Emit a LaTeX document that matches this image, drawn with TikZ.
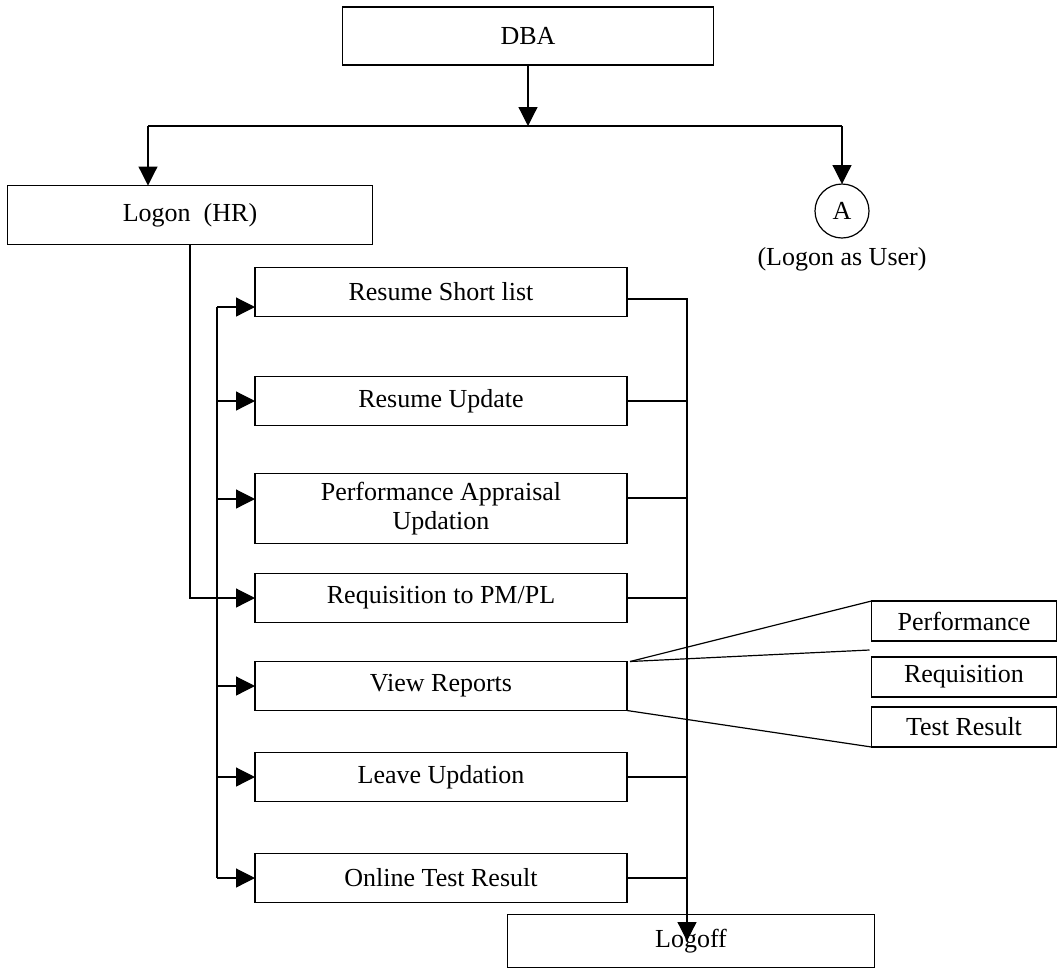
\documentclass[tikz,border=0pt]{standalone}
\usepackage{fontspec}
\setmainfont{Liberation Serif}
\usetikzlibrary{positioning,arrows.meta}

\begin{document}
\begin{tikzpicture}[
	x=1pt, y=-1pt,
	every node/.style={font=\fontsize{26}{29}\selectfont},
	box/.style={draw, line width=1.2pt, outer sep=0pt, inner sep=2pt, minimum width=372pt, minimum height=49pt},
	repbox/.style={draw, line width=1.2pt, outer sep=0pt, inner sep=2pt, minimum width=185pt, minimum height=40pt},
	usernode/.style={circle, draw, line width=1.2pt, outer sep=0pt, inner sep=0pt, minimum size=54pt},
	flow/.style={-{Triangle[length=19pt,width=19pt]}, line width=1.2pt},
	link/.style={line width=1.2pt},
	]
	\useasboundingbox (0,0) rectangle (1060,970);
	%Nodes
	\node[box, minimum width=371pt, minimum height=58pt] (dba)   at (528,36)  {DBA};
	\node[box, minimum width=365pt, minimum height=59pt] (logon) at (190,215) {Logon\ \ (HR)};
	\node[usernode] (a)      at (842,211)     {A};
	\node           (asuser) [below=6pt of a] {(Logon as User)};

	\node[box]      (rsl)    at (441,292)          {Resume Short list};
	\node[box]      (ru)     [below=60pt of rsl]   {Resume Update};
	\node[box, minimum height=70pt, align=center]
	                (pau)    [below=48pt of ru]    {Performance Appraisal\\Updation};
	\node[box]      (req)    [below=30pt of pau]   {Requisition to PM/PL};
	\node[box]      (view)   [below=39pt of req]   {View Reports};
	\node[box]      (leave)  [below=42pt of view]  {Leave Updation};
	\node[box]      (ots)    [below=52pt of leave] {Online Test Result};
	\node[box, minimum width=367pt, minimum height=53pt] (logoff) at (691,941) {Logoff};

	\node[repbox]   (perf)    at (964,621)            {Performance};
	\node[repbox]   (reqrep)  [below=16pt of perf]    {Requisition};
	\node[repbox]   (testres) [below=10pt of reqrep]  {Test Result};

	%Points
	\coordinate (hl)     at (148,126);
	\coordinate (hr)     at (842,126);
	\coordinate (bus)    at (217,0);
	\coordinate (exit)   at (687,0);
	\coordinate (rslin)  at ([yshift=-15pt]rsl.west);
	\coordinate (pauin)  at ([yshift=9.5pt]pau.west);
	\coordinate (rslout) at ([yshift=-7pt]rsl.east);
	\coordinate (pauout) at ([yshift=10.5pt]pau.east);
	\coordinate (viewout) at ([xshift=3pt]view.north east);
	\coordinate (reqtip) at ([shift={(-2pt,7pt)}]reqrep.north west);

	%Lines
	\draw[flow] (dba.south) -- (dba.south |- hl);
	\draw[link] (hl) -- (hr);
	\draw[flow] (hl) -- (hl |- logon.north);
	\draw[flow] (hr) -- (a.north);
	\draw[flow] (logon.south) |- (req.west);

	\draw[link] (bus |- rslin) -- (bus |- ots.west);
	\draw[flow] (bus |- rslin)     -- (rslin);
	\draw[flow] (bus |- ru.west)    -- (ru.west);
	\draw[flow] (bus |- pauin)      -- (pauin);
	\draw[flow] (bus |- view.west)  -- (view.west);
	\draw[flow] (bus |- leave.west) -- (leave.west);
	\draw[flow] (bus |- ots.west)   -- (ots.west);

	\draw[flow] (rslout) -| (exit |- logoff.center);
	\draw[link] (ru.east)    -- (exit |- ru.east);
	\draw[link] (pauout)     -- (exit |- pauout);
	\draw[link] (req.east)   -- (exit |- req.east);
	\draw[link] (leave.east) -- (exit |- leave.east);
	\draw[link] (ots.east)   -- (exit |- ots.east);

	\draw[link] (viewout) -- (perf.north west);
	\draw[link] (viewout) -- (reqtip);
	\draw[link] (view.south east) -- (testres.south west);
\end{tikzpicture}
\end{document}
